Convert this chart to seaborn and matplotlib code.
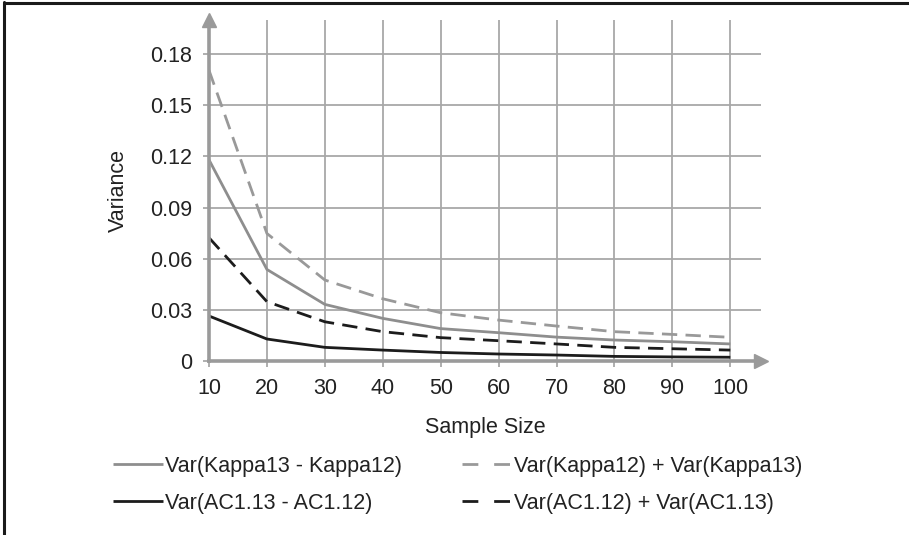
import numpy as np
import pandas as pd
import matplotlib
matplotlib.use("Agg")
import matplotlib.pyplot as plt
from matplotlib.lines import Line2D
import seaborn as sns

sample_size = [10, 20, 30, 40, 50, 60, 70, 80, 90, 100]
var_kappa_diff = [0.118, 0.0537, 0.0332, 0.0250, 0.0190, 0.0166, 0.0140, 0.0123, 0.0113, 0.0100]
var_kappa_sum = [0.1705, 0.0748, 0.0475, 0.0365, 0.0283, 0.0240, 0.0205, 0.0172, 0.0156, 0.0139]
var_ac1_diff = [0.0264, 0.0129, 0.0080, 0.0064, 0.0050, 0.0041, 0.0035, 0.0027, 0.0024, 0.0022]
var_ac1_sum = [0.0723, 0.0348, 0.0230, 0.0172, 0.0137, 0.0119, 0.0100, 0.0080, 0.0072, 0.0064]

labels = ["Var(Kappa13 - Kappa12)", "Var(Kappa12) + Var(Kappa13)",
          "Var(AC1.13 - AC1.12)", "Var(AC1.12) + Var(AC1.13)"]
y_ticks = [0, 0.03, 0.06, 0.09, 0.12, 0.15, 0.18]
y_tick_labels = ["0", "0.03", "0.06", "0.09", "0.12", "0.15", "0.18"]

sns.set_theme(style="white")
plt.rcParams["font.family"] = ["Liberation Sans", "DejaVu Sans"]

GRAY = "#8e8e8e"
GRAYD = "#999999"
BLACK = "#1c1c1c"
GRID = "#a8a8a8"
AXC = "#9a9a9a"
TXT = "#222222"
FS = 15.5

fig = plt.figure(figsize=(9.09, 5.35), dpi=100)
fig.patch.set_facecolor("white")
W, H = 909, 535
ax = fig.add_axes([209 / W, 1 - 361 / H, (761 - 209) / W, (361 - 20) / H])

lw = 2.0
dash = (5.5, 3.0)
series = [
    (var_kappa_diff, GRAY, None),
    (var_kappa_sum, GRAYD, dash),
    (var_ac1_diff, BLACK, None),
    (var_ac1_sum, BLACK, dash),
]
proxies = []
for (vals, col, ds), lab in zip(series, labels):
    df = pd.DataFrame({"x": sample_size, "y": vals})
    sns.lineplot(data=df, x="x", y="y", ax=ax, color=col, linewidth=lw, legend=False)
    ln = ax.get_lines()[-1]
    if ds is not None:
        ln.set_dashes(ds)
    ln.set_solid_capstyle("butt")
    ln.set_dash_capstyle("butt")
    ln.set_zorder(5)
    p = Line2D([], [], color=col, linewidth=lw, solid_capstyle="butt", dash_capstyle="butt")
    if ds is not None:
        p.set_dashes((5.7, 5.7))
    proxies.append(p)

ax.set_xlim(10, 105.3)
ax.set_ylim(0, 0.2)
ax.set_xticks(sample_size)
ax.set_xticklabels([str(v) for v in sample_size], fontsize=FS, color=TXT)
ax.set_yticks(y_ticks)
ax.set_yticklabels(y_tick_labels, fontsize=FS, color=TXT)

ax.grid(True, color=GRID, linewidth=1.3)
ax.set_axisbelow(True)
for s in ["top", "right"]:
    ax.spines[s].set_visible(False)
for s in ["left", "bottom"]:
    ax.spines[s].set_color(AXC)
    ax.spines[s].set_linewidth(2.6)
    ax.spines[s].set_zorder(6)
ax.tick_params(axis="both", which="both", length=4, width=1.3, color=GRID,
               direction="out", bottom=True, left=True)
ax.tick_params(axis="y", pad=8)
ax.tick_params(axis="x", pad=8)

# arrow heads on axes
ax.plot(1, 0, ">", transform=ax.transAxes, color=AXC, markersize=10, clip_on=False, zorder=7)
ax.plot(0, 1, "^", transform=ax.transAxes, color=AXC, markersize=10, clip_on=False, zorder=7)

ax.set_xlabel("Sample Size", fontsize=FS, color=TXT, labelpad=13)
ax.set_ylabel("Variance", fontsize=FS, color=TXT, labelpad=15)

order = [0, 2, 1, 3]
leg = fig.legend([proxies[i] for i in order], [labels[i] for i in order],
                 loc="upper left", bbox_to_anchor=(113 / W, 1 - 456 / H),
                 ncol=2, frameon=False, fontsize=FS, borderpad=0, borderaxespad=0,
                 handlelength=2.3, handletextpad=0.12, columnspacing=2.8,
                 labelspacing=0.72)
for t in leg.get_texts():
    t.set_color(TXT)

# figure border (left and top)
fig.add_artist(Line2D([3.5 / W, 3.5 / W], [0, 1 - 2 / H], transform=fig.transFigure,
                      color="#1a1a1a", linewidth=2.2))
fig.add_artist(Line2D([3.5 / W, 1], [1 - 2.5 / H, 1 - 2.5 / H], transform=fig.transFigure,
                      color="#1a1a1a", linewidth=2.2))

fig.savefig("out.png", dpi=100, facecolor="white")
